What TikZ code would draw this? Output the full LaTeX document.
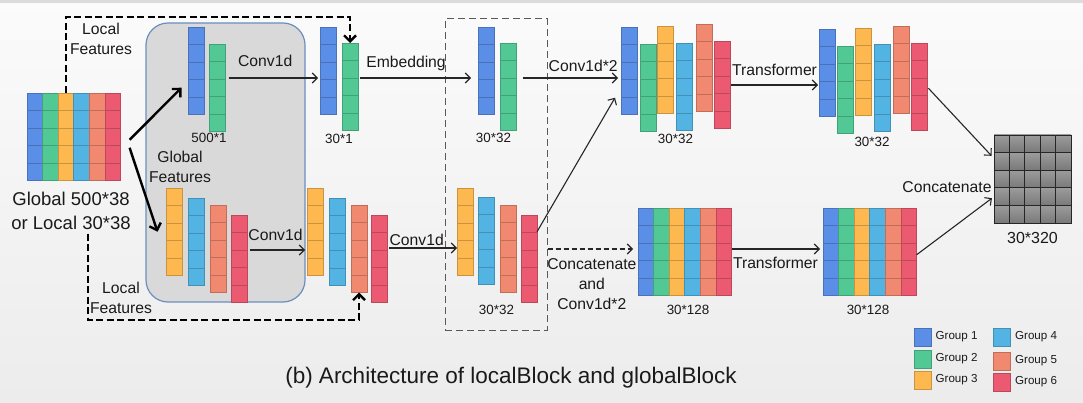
\documentclass[tikz,border=0pt]{standalone}
\usepackage{fontspec}
\setmainfont{Liberation Sans}
\usetikzlibrary{arrows.meta,calc}
\definecolor{grpblue}{RGB}{91,142,230}
\definecolor{grpgreen}{RGB}{82,201,148}
\definecolor{grpyellow}{RGB}{253,184,79}
\definecolor{grpcyan}{RGB}{83,180,227}
\definecolor{grpsalmon}{RGB}{241,136,112}
\definecolor{grpred}{RGB}{236,90,114}
\definecolor{boxgray}{RGB}{217,217,217}
\definecolor{boxedge}{RGB}{108,142,191}
\definecolor{inktext}{RGB}{26,26,26}
\tikzset{grp/.style={draw=#1!80!black, fill=#1, line width=0.8pt,
  minimum width=16pt, minimum height=87.5pt, inner sep=0pt, outer sep=0pt,
  path picture={\foreach \k in {1,...,4}
    \draw[#1!80!black, line width=0.8pt]
      ([yshift=-\k*17.5pt]path picture bounding box.north west) --
      ([yshift=-\k*17.5pt]path picture bounding box.north east);}}}
\tikzstyle{graybox}=[draw=boxedge, fill=boxgray, line width=1.2pt,
  rounded corners=22pt, minimum width=159pt, minimum height=279pt]
\tikzstyle{dashbox}=[draw=black!65, line width=1pt, dash pattern=on 7pt off 4pt,
  minimum width=102pt, minimum height=311pt]
\tikzstyle{lbl}=[text=inktext, font=\fontsize{15.7}{20}\selectfont,
  align=center, inner sep=0pt]
\tikzstyle{dim}=[text=inktext, font=\fontsize{13.4}{16}\selectfont, inner sep=0pt]
\tikzstyle{flow}=[draw, line width=1.1pt, color=black!85,
  -{Straight Barb[length=5pt,width=10pt]}]
\tikzstyle{bigflow}=[draw, line width=2.4pt, color=black,
  -{Straight Barb[length=6pt,width=12pt]}]
\tikzstyle{localpath}=[draw, line width=2.4pt, color=black,
  dash pattern=on 7pt off 3.5pt, -{Straight Barb[length=6pt,width=12pt]}]
\tikzstyle{concatpath}=[flow, dash pattern=on 5pt off 3pt]
% one feature column: name, colour, centre x, top y
\newcommand{\featcol}[4]{\node (#1) [grp=#2, anchor=north] at (#3,#4) {};}
% six columns side by side: name, left x, top y
\newcommand{\featmat}[3]{%
  \foreach \col [count=\k] in {grpblue,grpgreen,grpyellow,grpcyan,grpsalmon,grpred}
    \node (#1\k) [grp=\col, minimum width=15.6pt, anchor=north west]
      at ({#2+15.6*(\k-1)},#3) {};}

\begin{document}
\begin{tikzpicture}[x=1pt,y=-1pt]

  % page and background
  \useasboundingbox (0,0) rectangle (1083,403);
  \fill[top color={rgb,255:red,251;green,251;blue,251},
        bottom color={rgb,255:red,236;green,236;blue,236}] (0,0) rectangle (1083,403);
  \fill[gray!28] (0,0) rectangle (1083,3);

  % rows used by the horizontal connectors
  \coordinate (ltop) at (0,17);
  \coordinate (lbot) at (88,320);
  \coordinate (rowT) at (0,78);
  \coordinate (rowT2) at (0,85);
  \coordinate (rowB) at (0,250);
  \coordinate (rowB2) at (0,248);
  \coordinate (rowM) at (0,249);

  % frames
  \node (gbox) [graybox] at (225.5,162.5) {};
  \node (dbox) [dashbox] at (496,174.5) {};

  % input block
  \featmat{inp}{27}{93}
  \node (inlab) [lbl, font=\fontsize{18.5}{23.5}\selectfont] at (71,211)
    {Global 500*38\\or Local 30*38};

  % upper branch
  \featcol{A1}{grpblue}{196.5}{27}
  \featcol{A2}{grpgreen}{217.5}{44}
  \featcol{B1}{grpblue}{328}{27}
  \featcol{B2}{grpgreen}{350}{43}
  \featcol{C1}{grpblue}{486}{27}
  \featcol{C2}{grpgreen}{508}{43}
  \featcol{D1}{grpblue}{629}{27}
  \featcol{D2}{grpgreen}{648}{44}
  \featcol{D3}{grpyellow}{665.5}{26}
  \featcol{D4}{grpcyan}{684}{43}
  \featcol{D5}{grpsalmon}{704}{24}
  \featcol{D6}{grpred}{722}{41}
  \featcol{E1}{grpblue}{827}{29}
  \featcol{E2}{grpgreen}{845}{46}
  \featcol{E3}{grpyellow}{863.5}{28}
  \featcol{E4}{grpcyan}{882}{44}
  \featcol{E5}{grpsalmon}{901}{26}
  \featcol{E6}{grpred}{919}{43}

  % lower branch
  \featcol{F3}{grpyellow}{174.5}{188}
  \featcol{F4}{grpcyan}{196.5}{198}
  \featcol{F5}{grpsalmon}{218}{205}
  \featcol{F6}{grpred}{239}{215}
  \featcol{G3}{grpyellow}{315}{188}
  \featcol{G4}{grpcyan}{337}{198}
  \featcol{G5}{grpsalmon}{359}{205}
  \featcol{G6}{grpred}{379.5}{215}
  \featcol{H3}{grpyellow}{465}{188}
  \featcol{H4}{grpcyan}{486}{197}
  \featcol{H5}{grpsalmon}{508}{205}
  \featcol{H6}{grpred}{529}{215}
  \featmat{mta}{638}{208}
  \featmat{mtb}{823}{208}

  % concatenated output
  \foreach \i in {0,...,4}
    \foreach \j in {0,...,4}
      \shade[top color=gray!78, bottom color=gray!95!black, draw=black!85,
             line width=0.9pt] (994+15.4*\i,135+17.6*\j) rectangle ++(15.4,17.6);
  \node (cat) [draw=black!85, line width=0.9pt, minimum width=77pt,
    minimum height=88pt, inner sep=0pt] at (1032.5,179) {};

  % texts
  \node (toploc) [lbl] at (101,39) {Local\\Features};
  \node (glob) [lbl] at (180,167) {Global\\Features};
  \node (botloc) [lbl] at (121,298) {Local\\Features};
  \node (catlbl) [lbl] at (947,187.5) {Concatenate};
  \node (dimA) [dim] at (209,138) {500*1};
  \node (dimB) [dim] at (339,138.5) {30*1};
  \node (dimC) [dim] at (493.5,138) {30*32};
  \node (dimH) [dim] at (496.5,310) {30*32};
  \node (dimD) [dim] at (675.5,139) {30*32};
  \node (dimE) [dim] at (872,142) {30*32};
  \node (dimM1) [dim] at (688,309.5) {30*128};
  \node (dimM2) [dim] at (868,309.5) {30*128};
  \node (dimcat) [dim, font=\fontsize{16}{19}\selectfont] at (1032.5,238) {30*320};

  % local feature shortcuts
  \path [localpath] (inp3.north) |- (B2.north |- ltop) -- (B2.north);
  \path [localpath, shorten <=4pt] (inlab.south -| lbot) |- (G5.south |- lbot) -- (G5.south);

  % split of the input
  \path [bigflow] ($(inp6.east)+(9,3)$) -- ($(A1.west)+(-7,17)$);
  \path [bigflow] ($(inp6.east)+(9,11)$) -- ($(F3.west)+(-9,0)$);

  % upper branch arrows
  \path [flow, shorten <=3pt, shorten >=2pt] (A2.east |- rowT) --
    node [lbl, above=11pt, pos=0.42] {Conv1d} (B1.west |- rowT);
  \path [flow, shorten <=2pt, shorten >=7pt] (B2.east |- rowT) --
    node [lbl, above=6.5pt, pos=0.4] {Embedding} (C1.west |- rowT);
  \path [flow, shorten <=7pt, shorten >=3pt] (C2.east |- rowT) --
    node [lbl, above=6pt, pos=0.64] {Conv1d*2} (D1.west |- rowT);
  \path [flow, shorten <=1pt, shorten >=1pt] (D6.east |- rowT2) --
    node [lbl, above=9pt] {Transformer} (E1.west |- rowT2);
  \path [flow, shorten <=2pt, shorten >=3pt] (E6.east) -- ([yshift=21pt]cat.west);

  % lower branch arrows
  \path [flow, shorten <=3pt, shorten >=2pt] (F6.east |- rowB) --
    node [lbl, above=9pt, pos=0.475] {Conv1d} (G3.west |- rowB);
  \path [flow, shorten <=1.5pt] (G6.east |- rowB2) --
    node [lbl, above=2pt, pos=0.42] {Conv1d} (H3.west |- rowB2);
  \path [flow] ([yshift=27pt]H6.east) -- ([xshift=-6pt,yshift=-27pt]D1.west);
  \path [concatpath, shorten >=5pt] (dbox.east |- rowM) --
    node [lbl, below=9pt, pos=0.49] {Concatenate\\and\\Conv1d*2} (mta1.west |- rowM);
  \path [flow, shorten >=3pt] (mta6.east |- rowM) --
    node [lbl, below=8pt, pos=0.48] {Transformer} (mtb1.west |- rowM);
  \path [flow, shorten >=2pt] ([yshift=-3pt]mtb6.east) -- ([yshift=-18pt]cat.west);

  % legend
  \foreach \col/\txt/\x/\y [count=\n] in {grpblue/Group 1/922.5/337,
      grpgreen/Group 2/922.5/359, grpyellow/Group 3/922.5/380,
      grpcyan/Group 4/1002/337, grpsalmon/Group 5/1002/361, grpred/Group 6/1002/382}
  {
    \node (key\n) [draw=\col!80!black, fill=\col, line width=0.8pt,
      minimum width=17pt, minimum height=18pt, inner sep=0pt] at (\x,\y) {};
    \node (keytxt\n) [anchor=west, text=inktext, inner sep=0pt,
      font=\fontsize{11.6}{14}\selectfont] at ([xshift=4pt]key\n.east) {\txt};
  }

  % caption
  \node (caption) [text=inktext, font=\fontsize{22.5}{27}\selectfont, inner sep=0pt]
    at (511,378) {(b) Architecture of localBlock and globalBlock};

\end{tikzpicture}
\end{document}
